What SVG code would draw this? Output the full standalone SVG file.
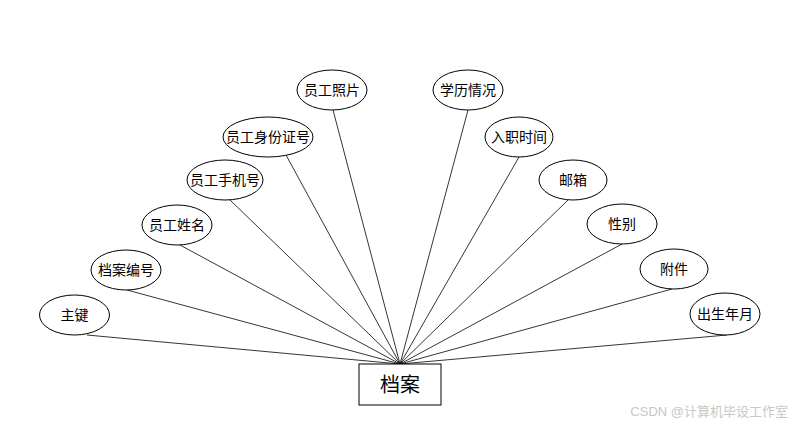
<svg xmlns="http://www.w3.org/2000/svg" width="800" height="430" viewBox="0 0 800 430">
<style>
.n ellipse{fill:#fff;stroke:#000;stroke-width:1}
.t{font-family:"Liberation Sans","Noto Sans CJK SC",sans-serif;font-size:14px;fill:#000;text-anchor:middle;dominant-baseline:central}
#edges line{stroke:#000;stroke-width:0.8}
</style>
<rect width="800" height="430" fill="#fff"/>
<g id="edges">
<line x1="87" y1="335" x2="400" y2="364"/>
<line x1="127" y1="290" x2="400" y2="364"/>
<line x1="180" y1="245" x2="400" y2="364"/>
<line x1="230" y1="200" x2="400" y2="364"/>
<line x1="286" y1="155" x2="400" y2="364"/>
<line x1="333" y1="110" x2="400" y2="364"/>
<line x1="468" y1="110" x2="400" y2="364"/>
<line x1="519" y1="157" x2="400" y2="364"/>
<line x1="568" y1="200" x2="400" y2="364"/>
<line x1="622" y1="244" x2="400" y2="364"/>
<line x1="672" y1="289" x2="400" y2="364"/>
<line x1="727" y1="335" x2="400" y2="364"/>
</g>
<g id="archive"><rect x="359" y="364" width="82" height="41" fill="#fff" stroke="#000" stroke-width="1"/><text class="t" x="400" y="385" style="font-size:20px">档案</text></g>
<g id="n1" class="n"><ellipse cx="74.5" cy="315" rx="35" ry="20"/><text class="t" x="74.5" y="315">主键</text></g>
<g id="n2" class="n"><ellipse cx="126" cy="270" rx="35" ry="20"/><text class="t" x="126" y="270">档案编号</text></g>
<g id="n3" class="n"><ellipse cx="177" cy="225" rx="35" ry="20"/><text class="t" x="177" y="225">员工姓名</text></g>
<g id="n4" class="n"><ellipse cx="225" cy="180" rx="38" ry="20"/><text class="t" x="225" y="180">员工手机号</text></g>
<g id="n5" class="n"><ellipse cx="268" cy="137" rx="45" ry="20"/><text class="t" x="268" y="137">员工身份证号</text></g>
<g id="n6" class="n"><ellipse cx="332" cy="90" rx="35" ry="20"/><text class="t" x="332" y="90">员工照片</text></g>
<g id="n7" class="n"><ellipse cx="468" cy="90" rx="35" ry="20"/><text class="t" x="468" y="90">学历情况</text></g>
<g id="n8" class="n"><ellipse cx="519" cy="137" rx="34" ry="20"/><text class="t" x="519" y="137">入职时间</text></g>
<g id="n9" class="n"><ellipse cx="573" cy="180" rx="34" ry="20"/><text class="t" x="573" y="180">邮箱</text></g>
<g id="n10" class="n"><ellipse cx="622" cy="224" rx="35" ry="20"/><text class="t" x="622" y="224">性别</text></g>
<g id="n11" class="n"><ellipse cx="674" cy="269" rx="34" ry="20"/><text class="t" x="674" y="269">附件</text></g>
<g id="n12" class="n"><ellipse cx="725" cy="314" rx="35" ry="21"/><text class="t" x="725" y="314">出生年月</text></g>
<text x="788" y="411" style="font-family:'Liberation Sans','Noto Sans CJK SC',sans-serif;font-size:13px;fill:#c8c8c8;text-anchor:end;dominant-baseline:central">CSDN @计算机毕设工作室</text>
</svg>
